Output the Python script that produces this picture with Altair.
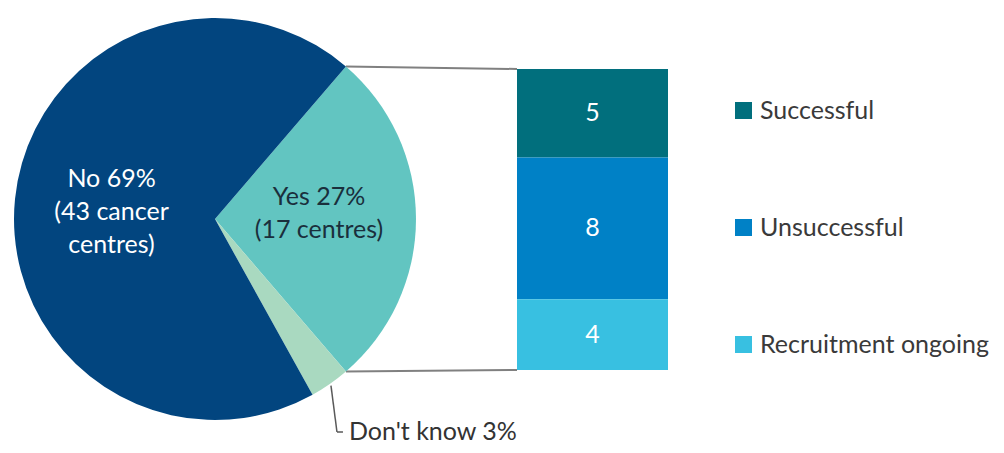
import math
import altair as alt
import pandas as pd

# ---------------- data ----------------
pie_labels = ["Yes", "Don't know", "No"]
pie_values = [17, 2, 43]
pie_pct = [27, 3, 69]
yes_text = ["Yes 27%\n(17 centres)", "", ""]
no_text = ["", "", "No 69%\n(43 cancer\ncentres)"]

outcome_labels = ["Successful", "Unsuccessful", "Recruitment ongoing"]
outcome_values = [5, 8, 4]

# ---------------- styles ----------------
pie_colors = ["#62C5C1", "#A9D9C0", "#02457F"]
outcome_colors = ["#016F7D", "#0081C6", "#38C0E1"]
FONT = "Lato"
FS = 25

W, H = 988, 437
CX, CY, R = 207, 211, 201
BX0, BX1 = 509, 660
BY_TOP, BY_BOT = 61, 362

total = sum(pie_values)
yes_frac = pie_values[0] / total
dk_frac = pie_values[1] / total
start = math.pi / 2 - math.pi * yes_frac          # Yes slice centred on 3 o'clock
yes_end = start + 2 * math.pi * yes_frac
dk_mid = yes_end + math.pi * dk_frac

pie_df = pd.DataFrame({
    "label": pie_labels,
    "value": pie_values,
    "pct": pie_pct,
    "yes_text": yes_text,
    "no_text": no_text,
    "ord": list(range(len(pie_labels))),
})

bar_df = pd.DataFrame({
    "outcome": outcome_labels,
    "value": outcome_values,
    "ord": [2, 1, 0],
})

theta = alt.Theta("value:Q", stack=True,
                  scale=alt.Scale(domain=[0, total], range=[start, start + 2 * math.pi]))

pie = alt.Chart(pie_df).mark_arc(radius=R, strokeWidth=0).encode(
    theta=theta,
    color=alt.Color("label:N", scale=alt.Scale(domain=pie_labels, range=pie_colors), legend=None),
    order=alt.Order("ord:Q"),
    x=alt.value(CX), y=alt.value(CY),
)

yes_lbl = alt.Chart(pie_df).mark_text(
    radius=104, fontSize=FS, font=FONT, lineBreak="\n", lineHeight=33,
    baseline="middle", align="center", dy=-22, color="#1A2F3C"
).encode(
    theta=theta, order=alt.Order("ord:Q"), text="yes_text:N",
    x=alt.value(CX), y=alt.value(CY),
)

no_lbl = alt.Chart(pie_df).mark_text(
    radius=104, fontSize=FS, font=FONT, lineBreak="\n", lineHeight=33,
    baseline="middle", align="center", dy=-29, color="#FFFFFF"
).encode(
    theta=theta, order=alt.Order("ord:Q"), text="no_text:N",
    x=alt.value(CX), y=alt.value(CY),
)

# connector + leader segments (derived from the slice angles)
p_top = (CX + R * math.sin(start), CY - R * math.cos(start))
p_bot = (CX + R * math.sin(yes_end), CY - R * math.cos(yes_end))
p_dk = (CX + (R + 2) * math.sin(dk_mid), CY - (R + 2) * math.cos(dk_mid))
bend = (p_dk[0] + 6, 424)
lead_end = (bend[0] + 6, 424)

seg_df = pd.DataFrame({
    "x": [p_top[0], p_bot[0]],
    "y": [p_top[1], p_bot[1]],
    "x2": [BX0, BX0],
    "y2": [BY_TOP, BY_BOT],
})
lead_df = pd.DataFrame({
    "x": [p_dk[0], bend[0]],
    "y": [p_dk[1], bend[1]],
    "x2": [bend[0], lead_end[0]],
    "y2": [bend[1], lead_end[1]],
})

connectors = alt.Chart(seg_df).mark_rule(color="#808080", strokeWidth=2).encode(
    x=alt.X("x:Q", scale=None, axis=None), y=alt.Y("y:Q", scale=None, axis=None),
    x2="x2:Q", y2="y2:Q",
)
leader = alt.Chart(lead_df).mark_rule(color="#595959", strokeWidth=1.5).encode(
    x=alt.X("x:Q", scale=None, axis=None), y=alt.Y("y:Q", scale=None, axis=None),
    x2="x2:Q", y2="y2:Q",
)

dk_lbl = alt.Chart(pie_df[pie_df["label"] == "Don't know"]).transform_calculate(
    t="datum.label + ' ' + datum.pct + '%'"
).mark_text(fontSize=FS, font=FONT, align="left", baseline="middle", color="#333333").encode(
    text="t:N",
    x=alt.value(lead_end[0] + 6), y=alt.value(lead_end[1]),
)

yscale = alt.Scale(domain=[0, sum(outcome_values)], range=[BY_BOT, BY_TOP])

bar_base = alt.Chart(bar_df).transform_stack(
    stack="value", groupby=[], as_=["y0", "y1"], sort=[alt.SortField("ord")]
)

bar = bar_base.mark_rect(strokeWidth=0).encode(
    x=alt.value(BX0), x2=alt.value(BX1),
    y=alt.Y("y0:Q", scale=yscale, axis=None), y2="y1:Q",
    color=alt.Color(
        "outcome:N",
        scale=alt.Scale(domain=outcome_labels, range=outcome_colors),
        legend=alt.Legend(
            orient="none", legendX=723, legendY=90, title=None, direction="vertical",
            symbolType="square", symbolSize=289, symbolStrokeWidth=0,
            labelFontSize=FS, labelFont=FONT, labelColor="#3A3A3A", labelLimit=0,
            labelOffset=4, rowPadding=91, padding=0,
        ),
    ),
)

bar_lbl = bar_base.transform_calculate(mid="(datum.y0 + datum.y1) / 2").mark_text(
    fontSize=FS, font=FONT, color="#FFFFFF", baseline="middle", align="center"
).encode(
    x=alt.value((BX0 + BX1) / 2),
    y=alt.Y("mid:Q", scale=yscale, axis=None),
    text="value:Q",
)

chart = alt.layer(
    connectors, leader, pie, yes_lbl, no_lbl, dk_lbl, bar, bar_lbl
).resolve_scale(
    color="independent", x="independent", y="independent"
).properties(
    width=W, height=H, padding=0, autosize=alt.AutoSizeParams(type="none")
).configure_view(stroke=None)

chart.save("out.html", embed_options={"renderer": "svg", "actions": False})
